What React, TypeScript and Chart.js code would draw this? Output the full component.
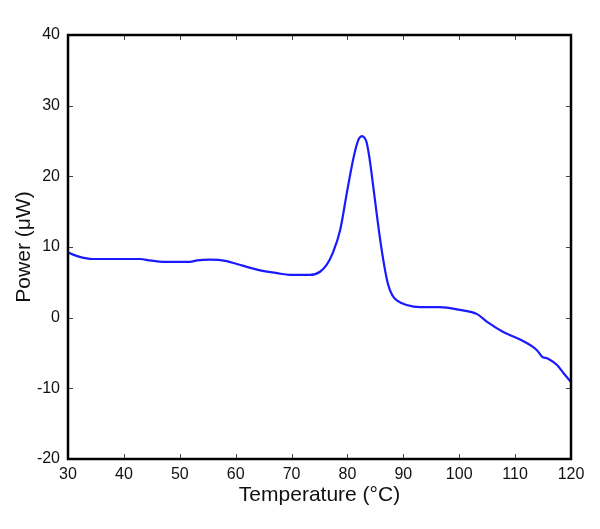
import React, { useEffect, useRef } from "react";
import { Chart, registerables } from "chart.js";

Chart.register(...registerables);

const temperature = [30, 32.1, 34.3, 38, 42.9, 44.7, 47, 51.8, 53.1, 55.4, 58.4, 60.2, 63.8, 67.4, 69.7, 73.3, 75.1, 76.3, 77.4, 78.7, 79.9, 81.0, 81.6, 82.1, 82.6, 83.0, 83.4, 83.9, 84.4, 85.3, 86.2, 87.2, 88.0, 88.9, 90.6, 93.0, 96.5, 100.1, 103.2, 105.0, 107.8, 110.9, 113.9, 114.8, 115.9, 117.5, 118.6, 120];
const power = [9.2, 8.6, 8.3, 8.3, 8.3, 8.1, 7.9, 7.9, 8.1, 8.2, 8.0, 7.6, 6.8, 6.3, 6.05, 6.05, 6.5, 7.5, 9.2, 12.4, 17.7, 22.3, 24.3, 25.4, 25.7, 25.5, 24.9, 22.8, 19.9, 14.3, 9.2, 4.9, 3.2, 2.4, 1.8, 1.5, 1.5, 1.1, 0.5, -0.6, -2.0, -3.1, -4.6, -5.5, -5.8, -6.7, -7.8, -9.1];

const xTicks = [30, 40, 50, 60, 70, 80, 90, 100, 110, 120];
const yTicks = [-20, -10, 0, 10, 20, 30, 40];

const FONT = "'Liberation Sans', Arial, sans-serif";

const framePlugin = {
  id: "frameTicks",
  afterDatasetsDraw(chart: any) {
    const { ctx, chartArea } = chart;
    const xs = chart.scales.x;
    const ys = chart.scales.y;
    const { left, right, top, bottom } = chartArea;
    ctx.save();
    ctx.strokeStyle = "#444";
    ctx.lineWidth = 1;
    const len = 5;
    ctx.beginPath();
    for (const t of xTicks) {
      const px = Math.round(xs.getPixelForValue(t)) + 0.5;
      ctx.moveTo(px, bottom);
      ctx.lineTo(px, bottom - len);
      ctx.moveTo(px, top);
      ctx.lineTo(px, top + len);
    }
    for (const t of yTicks) {
      const py = Math.round(ys.getPixelForValue(t)) + 0.5;
      ctx.moveTo(left, py);
      ctx.lineTo(left + len, py);
      ctx.moveTo(right, py);
      ctx.lineTo(right - len, py);
    }
    ctx.stroke();
    ctx.strokeStyle = "#000";
    ctx.lineWidth = 2.5;
    ctx.strokeRect(left, top, right - left, bottom - top);
    ctx.restore();
  },
};

export default function App() {
  const ref = useRef<HTMLCanvasElement>(null);
  useEffect(() => {
    if (!ref.current) return;
    const chart = new Chart(ref.current, {
      type: "line",
      data: {
        datasets: [
          {
            data: temperature.map((t, i) => ({ x: t, y: power[i] })),
            borderColor: "#1a1aff",
            borderWidth: 2.2,
            pointRadius: 0,
            cubicInterpolationMode: "monotone",
            fill: false,
          },
        ],
      },
      options: {
        responsive: false,
        animation: false,
        layout: { padding: { top: 35, right: 29, left: 0, bottom: 0 } },
        plugins: { legend: { display: false }, tooltip: { enabled: false } },
        scales: {
          x: {
            type: "linear",
            min: 30,
            max: 120,
            afterFit: (s: any) => { s.height = 70; },
            afterBuildTicks: (s: any) => { s.ticks = xTicks.map((v) => ({ value: v })); },
            grid: { display: false, drawTicks: false },
            border: { display: false },
            ticks: { color: "#111", font: { family: FONT, size: 16 }, padding: 6, maxRotation: 0, autoSkip: false },
            title: { display: true, text: "Temperature (°C)", color: "#111", font: { family: FONT, size: 21 }, padding: { top: 0, bottom: 21 } },
          },
          y: {
            type: "linear",
            min: -20,
            max: 40,
            afterFit: (s: any) => { s.width = 68; },
            afterBuildTicks: (s: any) => { s.ticks = yTicks.map((v) => ({ value: v })); },
            grid: { display: false, drawTicks: false },
            border: { display: false },
            ticks: { color: "#111", font: { family: FONT, size: 16 }, padding: 8, autoSkip: false },
            title: { display: true, text: "Power (μW)", color: "#111", font: { family: FONT, size: 21 }, padding: { top: 12, bottom: 0 } },
          },
        },
      },
      plugins: [framePlugin],
    } as any);
    return () => chart.destroy();
  }, []);
  return (
    <div style={{ position: "absolute", left: 0, top: 0, width: 600, height: 529, background: "#fff" }}>
      <canvas ref={ref} width={600} height={529} />
    </div>
  );
}
